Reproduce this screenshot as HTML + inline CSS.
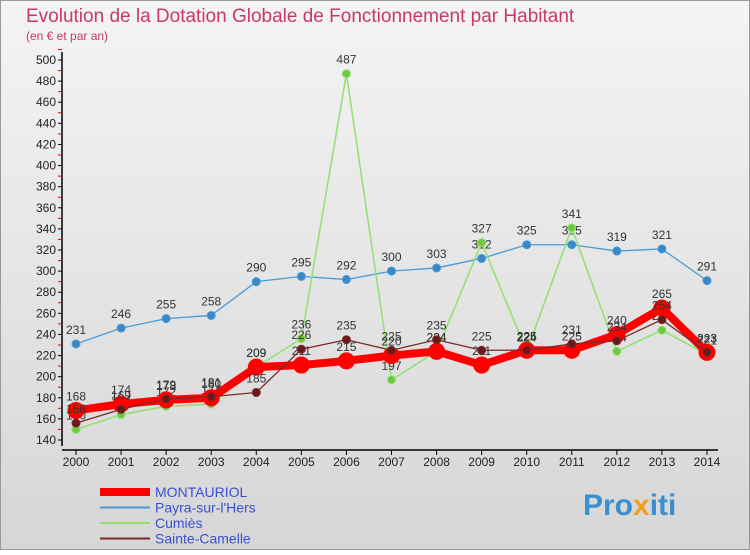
<!DOCTYPE html>
<html><head><meta charset="utf-8"><style>
body{margin:0;width:750px;height:550px;overflow:hidden;font-family:"Liberation Sans",sans-serif}
</style></head><body>
<svg id="c" width="750" height="550">
<defs>
<linearGradient id="bg" x1="0" y1="0" x2="0" y2="1"><stop offset="0" stop-color="#f4f4f4"/><stop offset="1" stop-color="#d6d6d6"/></linearGradient>
</defs>
<rect x="0.5" y="0.5" width="749" height="549" fill="url(#bg)" stroke="#999"/>
<text x="26" y="22" font-size="19" fill="#c8386a">Evolution de la Dotation Globale de Fonctionnement par Habitant</text>
<text x="26" y="40" font-size="12" fill="#c8386a">(en € et par an)</text>
<g id="axes"></g><g id="series"></g><g id="legend"></g>
<text x="583" y="515" font-size="30" font-weight="bold" fill="#3a8fd0">Pro<tspan fill="#f0a020">x</tspan>iti</text>
</svg>
<script>
const years=[2000,2001,2002,2003,2004,2005,2006,2007,2008,2009,2010,2011,2012,2013,2014];
const montauriol=[168,174,178,180,209,211,215,220,224,211,225,225,240,265,223];
const payra=[231,246,255,258,290,295,292,300,303,312,325,325,319,321,291];
const cumies=[150,164,172,174,209,236,487,197,224,327,224,341,224,244,221];
const camelle=[156,169,179,181,185,226,235,225,235,225,225,231,234,254,223];
const yTicks=[140,160,180,200,220,240,260,280,300,320,340,360,380,400,420,440,460,480,500];
const NS="http://www.w3.org/2000/svg";
const x=i=>76+i*(707-76)/(years.length-1);
const y=v=>440-(v-140)*380/360;
function mk(t,a,p){const e=document.createElementNS(NS,t);for(const k in a)e.setAttribute(k,a[k]);p.appendChild(e);return e;}
const ax=document.getElementById('axes');
const yl=mk('line',{x1:62,y1:52,x2:62,y2:446,stroke:'#000','stroke-width':1.5},ax);


const xl=mk('line',{x1:62,y1:450,x2:718,y2:450,stroke:'#000','stroke-width':1.5},ax);


yTicks.forEach(v=>{
 mk('line',{x1:58,y1:y(v),x2:62,y2:y(v),stroke:'#000'},ax);
 mk('line',{x1:58,y1:y(v+10),x2:62,y2:y(v+10),stroke:'#e00'},ax);
 const t=mk('text',{x:56,y:y(v)+4,'font-size':12,'text-anchor':'end',fill:'#222'},ax);t.textContent=v;
 
 
});
years.forEach((yr,i)=>{
 mk('line',{x1:x(i),y1:450,x2:x(i),y2:455,stroke:'#000'},ax);
 const t=mk('text',{x:x(i),y:466,'font-size':12,'text-anchor':'middle',fill:'#222'},ax);t.textContent=yr;
 
 
});
const sg=document.getElementById('series');
function series(arr,color,w,r,name,fill){
 const g=mk('g',{},sg);
 
 
 mk('polyline',{points:arr.map((v,i)=>x(i)+','+y(v)).join(' '),fill:'none',stroke:color,'stroke-width':w,'stroke-linejoin':'round'},g);
 arr.forEach((v,i)=>{
  const c=mk('circle',{cx:x(i),cy:y(v),r:r,fill:fill,stroke:color,'stroke-width':1},g);
  
  
  const t=mk('text',{x:x(i),y:y(v)-10,'font-size':12,'text-anchor':'middle',fill:'#333'},g);t.textContent=v;
  
  
 });
}
series(payra,'#4a9ad4',1.3,4,'payra-series','#3a88c8');
series(cumies,'#90e070',1.5,4,'cumies-series','#70c840');
series(montauriol,'#ff0000',8,8,'montauriol-series','#f00');
series(camelle,'#7a2a2a',1.3,4,'camelle-series','#6a1a1a');
const lg=document.getElementById('legend');
[['MONTAURIOL','#ff0000',8],['Payra-sur-l\'Hers','#4a9ad4',2],['Cumiès','#90e070',2],['Sainte-Camelle','#7a2a2a',2]].forEach((d,i)=>{
 const yy=492+i*15.5;
 const l=mk('line',{x1:100,y1:yy,x2:150,y2:yy,stroke:d[1],'stroke-width':d[2]},lg);
 
 
 const t=mk('text',{x:155,y:yy+5,'font-size':14,fill:'#3a50d0'},lg);t.textContent=d[0];
 
 
});
</script>
</body></html>
